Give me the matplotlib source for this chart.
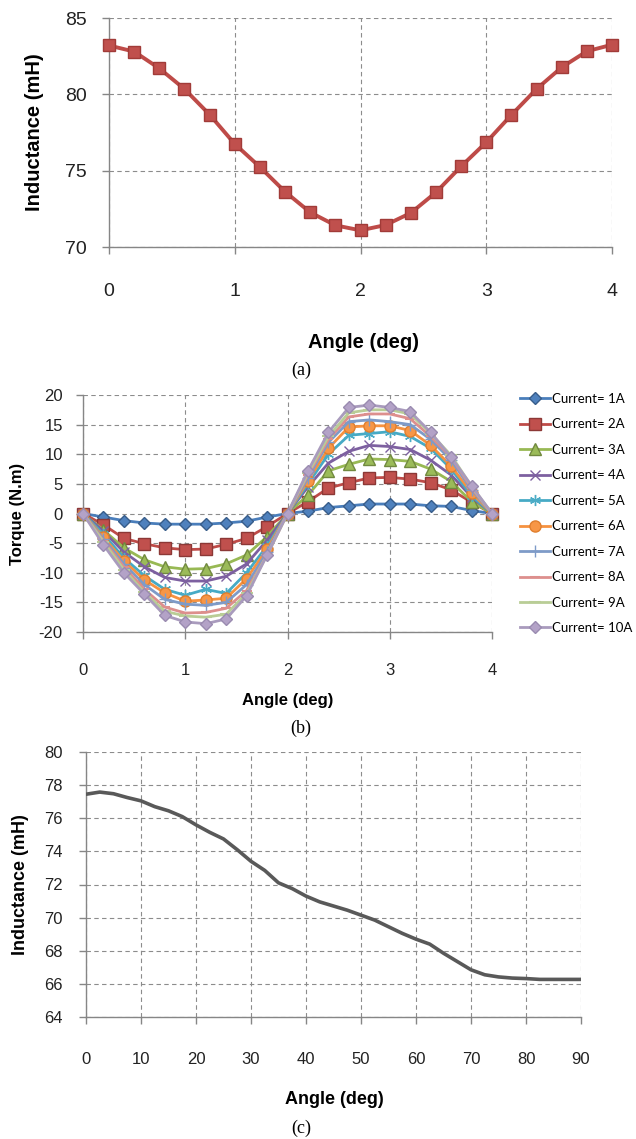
import matplotlib
matplotlib.use("Agg")
import matplotlib.pyplot as plt

plt.rcParams["axes.unicode_minus"] = False

# ---------------- data ----------------
a_angle = [0, 0.2, 0.4, 0.6, 0.8, 1.0, 1.2, 1.4, 1.6, 1.8, 2.0,
           2.2, 2.4, 2.6, 2.8, 3.0, 3.2, 3.4, 3.6, 3.8, 4.0]
a_induct = [83.2, 82.8, 81.7, 80.35, 78.67, 76.75, 75.24, 73.62, 72.27, 71.42, 71.09,
            71.44, 72.23, 73.58, 75.28, 76.86, 78.65, 80.35, 81.77, 82.82, 83.25]

b_angle = a_angle
b_labels = ["Current= 1A", "Current= 2A", "Current= 3A", "Current= 4A", "Current= 5A",
            "Current= 6A", "Current= 7A", "Current= 8A", "Current= 9A", "Current= 10A"]
t1 = [0, -0.6, -1.2, -1.6, -1.8, -1.8, -1.8, -1.6, -1.3, -0.6, 0,
      0.4, 1.0, 1.3, 1.6, 1.6, 1.6, 1.3, 1.2, 0.5, 0]
t2 = [0, -1.9, -4.2, -5.1, -5.8, -6.1, -6.0, -5.2, -4.2, -2.2, 0,
      2.0, 4.3, 5.2, 6.0, 6.1, 5.8, 5.2, 4.0, 1.9, 0]
t3 = [0, -2.8, -5.8, -7.8, -9.0, -9.4, -9.3, -8.5, -7.0, -3.9, 0,
      3.1, 7.2, 8.3, 9.2, 9.1, 8.8, 7.5, 5.4, 2.0, 0]
t4 = [0, -3.0, -6.5, -9.0, -10.8, -11.4, -11.4, -10.6, -8.5, -4.5, 0,
      4.5, 8.5, 10.5, 11.5, 11.3, 10.8, 9.0, 6.5, 2.8, 0]
t5 = [0, -3.5, -7.5, -10.5, -12.8, -13.8, -12.8, -13.5, -10.0, -5.5, 0,
      5.0, 10.0, 13.2, 13.5, 13.8, 13.0, 11.0, 7.5, 3.0, 0]
t6 = [0, -4.0, -8.0, -11.2, -13.4, -14.8, -14.6, -14.3, -11.0, -6.0, 0,
      5.5, 11.0, 14.6, 14.8, 14.8, 14.0, 11.5, 8.0, 3.5, 0]
t7 = [0, -4.3, -8.5, -12.0, -14.5, -15.3, -15.5, -15.0, -12.0, -6.5, 0,
      6.0, 12.0, 15.5, 15.8, 15.5, 15.0, 12.5, 9.0, 4.0, 0]
t8 = [0, -4.6, -9.0, -12.8, -15.8, -16.8, -16.7, -16.0, -13.0, -7.0, 0,
      6.5, 12.5, 16.3, 16.8, 16.8, 16.0, 13.0, 9.5, 4.3, 0]
t9 = [0, -4.8, -9.5, -13.3, -16.5, -17.3, -17.5, -17.0, -13.5, -7.0, 0,
      6.8, 13.0, 17.0, 17.5, 17.5, 16.8, 13.5, 9.8, 4.6, 0]
t10 = [0, -5.3, -10.0, -13.6, -17.2, -18.3, -18.6, -17.8, -13.9, -7.0, 0,
       7.2, 13.7, 17.9, 18.3, 17.9, 17.2, 13.7, 9.5, 4.7, 0]
b_torque = [t1, t2, t3, t4, t5, t6, t7, t8, t9, t10]

c_angle = [0, 2.5, 5, 7.5, 10, 12.5, 15, 17.5, 20, 22.5, 25, 27.5, 30, 32.5, 35, 37.5,
           40, 42.5, 45, 47.5, 50, 52.5, 55, 57.5, 60, 62.5, 65, 67.5, 70, 72.5, 75,
           77.5, 80, 82.5, 85, 87.5, 90]
c_induct = [77.45, 77.58, 77.48, 77.25, 77.05, 76.7, 76.45, 76.1, 75.6, 75.15, 74.75,
            74.1, 73.4, 72.85, 72.1, 71.75, 71.3, 70.95, 70.7, 70.45, 70.15, 69.85,
            69.45, 69.05, 68.7, 68.4, 67.85, 67.35, 66.85, 66.55, 66.42, 66.35, 66.32,
            66.27, 66.27, 66.27, 66.27]

a_xticks = [0, 1, 2, 3, 4]
a_yticks = [70, 75, 80, 85]
b_yticks = [-20, -15, -10, -5, 0, 5, 10, 15, 20]
c_xticks = [0, 10, 20, 30, 40, 50, 60, 70, 80, 90]
c_yticks = [64, 66, 68, 70, 72, 74, 76, 78, 80]

# ---------------- styling ----------------
W, H = 636, 1139
fig = plt.figure(figsize=(W / 100, H / 100), dpi=100)
fig.patch.set_facecolor("white")

SANS = "Liberation Sans"
GRID = "#8c8c8c"
AXC = "#868686"


def px_axes(left, top, right, bottom):
    return fig.add_axes([left / W, 1 - bottom / H, (right - left) / W, (bottom - top) / H])


def style(ax, tick_fs, xpad, ypad):
    for s in ("top", "right"):
        ax.spines[s].set_visible(False)
    for s in ("left", "bottom"):
        ax.spines[s].set_color(AXC)
        ax.spines[s].set_linewidth(1.0)
    ax.grid(True, color=GRID, linestyle=(0, (4, 3)), linewidth=0.8)
    ax.set_axisbelow(True)
    ax.tick_params(axis="both", direction="out", length=5, width=1, color=AXC,
                   labelsize=tick_fs, labelcolor="#222222")
    ax.tick_params(axis="x", pad=xpad)
    ax.tick_params(axis="y", pad=ypad)
    for lab in ax.get_xticklabels() + ax.get_yticklabels():
        lab.set_family(SANS)


# ---------------- panel (a) ----------------
axa = px_axes(109, 18, 612, 247)
axa.plot(a_angle, a_induct, color="#BE4B48", lw=2.8, marker="s", ms=8.5,
         mfc="#C0504D", mec="#A13B38", mew=1.0, clip_on=False, zorder=3)
axa.set_xlim(0, 4)
axa.set_ylim(70, 85)
axa.set_xticks(a_xticks)
axa.set_yticks(a_yticks)
style(axa, 14, 21, 11)
axa.set_xlabel("Angle (deg)", fontsize=14.5, fontweight="bold", family=SANS)
axa.xaxis.set_label_coords(0.505, -0.415)
axa.xaxis.label.set_va("center")
axa.set_ylabel("Inductance (mH)", fontsize=14.5, fontweight="bold", family=SANS)
axa.yaxis.set_label_coords(-0.148, 0.5)
axa.yaxis.label.set_va("center")
fig.text(301 / W, 1 - 370 / H, "(a)", family="Liberation Serif", fontsize=13,
         ha="center", va="center")

# ---------------- panel (b) ----------------
axb = px_axes(83, 395, 492, 632)
b_styles = [
    dict(color="#4A7EBB", marker="D", ms=6, mfc="#4F81BD", mec="#385D8A"),
    dict(color="#BE4B48", marker="s", ms=8, mfc="#C0504D", mec="#8C3836"),
    dict(color="#98B954", marker="^", ms=8, mfc="#9BBB59", mec="#71893F"),
    dict(color="#7D60A0", marker="x", ms=7, mfc="#7D60A0", mec="#7D60A0", mew=1.0),
    dict(color="#46AAC5", marker=(6, 2, 0), ms=8, mfc="#4BACC6", mec="#4BACC6", mew=1.0),
    dict(color="#F69240", marker="o", ms=8, mfc="#F79646", mec="#E07F2E"),
    dict(color="#7E9BC8", marker="+", ms=8, mfc="#7E9BC8", mec="#7E9BC8", mew=1.0),
    dict(color="#DD8F8D", marker="_", ms=7, mfc="#DD8F8D", mec="#DD8F8D", mew=1.5),
    dict(color="#B9CD96", marker="_", ms=9, mfc="#B9CD96", mec="#B9CD96", mew=1.5),
    dict(color="#A99BBD", marker="D", ms=6.5, mfc="#B3A2C7", mec="#9A8BB0"),
]
handles = []
for lab, vals, st in zip(b_labels, b_torque, b_styles):
    ln, = axb.plot(b_angle, vals, lw=2.0, label=lab, clip_on=False, zorder=3, **st)
    handles.append(ln)
axb.set_xlim(0, 4)
axb.set_ylim(-20, 20)
axb.set_xticks(a_xticks)
axb.set_yticks(b_yticks)
style(axb, 12, 17, 9.5)
axb.set_xlabel("Angle (deg)", fontsize=12, fontweight="bold", family=SANS)
axb.xaxis.set_label_coords(0.5, -0.287)
axb.xaxis.label.set_va("center")
axb.set_ylabel("Torque (N.m)", fontsize=12, fontweight="bold", family=SANS)
axb.yaxis.set_label_coords(-0.16, 0.5)
axb.yaxis.label.set_va("center")
fig.legend(handles=handles, loc="center left",
           bbox_to_anchor=(520 / W, 1 - 513.5 / H), bbox_transform=fig.transFigure,
           frameon=False, prop=dict(family="Lato", size=9.5),
           handlelength=2.3, handletextpad=0.15, labelspacing=1.02, borderpad=0,
           borderaxespad=0)
fig.text(301 / W, 1 - 728 / H, "(b)", family="Liberation Serif", fontsize=13,
         ha="center", va="center")

# ---------------- panel (c) ----------------
axc = px_axes(86, 752, 581, 1017)
axc.plot(c_angle, c_induct, color="#595959", lw=2.6, solid_capstyle="round", zorder=3)
axc.set_xlim(0, 90)
axc.set_ylim(64, 80)
axc.set_xticks(c_xticks)
axc.set_yticks(c_yticks)
style(axc, 12, 20, 11.5)
axc.set_xlabel("Angle (deg)", fontsize=13, fontweight="bold", family=SANS)
axc.xaxis.set_label_coords(0.502, -0.313)
axc.xaxis.label.set_va("center")
axc.set_ylabel("Inductance (mH)", fontsize=13, fontweight="bold", family=SANS)
axc.yaxis.set_label_coords(-0.133, 0.5)
axc.yaxis.label.set_va("center")
fig.text(301 / W, 1 - 1128 / H, "(c)", family="Liberation Serif", fontsize=13,
         ha="center", va="center")

fig.savefig("out.png", dpi=100, facecolor="white")
